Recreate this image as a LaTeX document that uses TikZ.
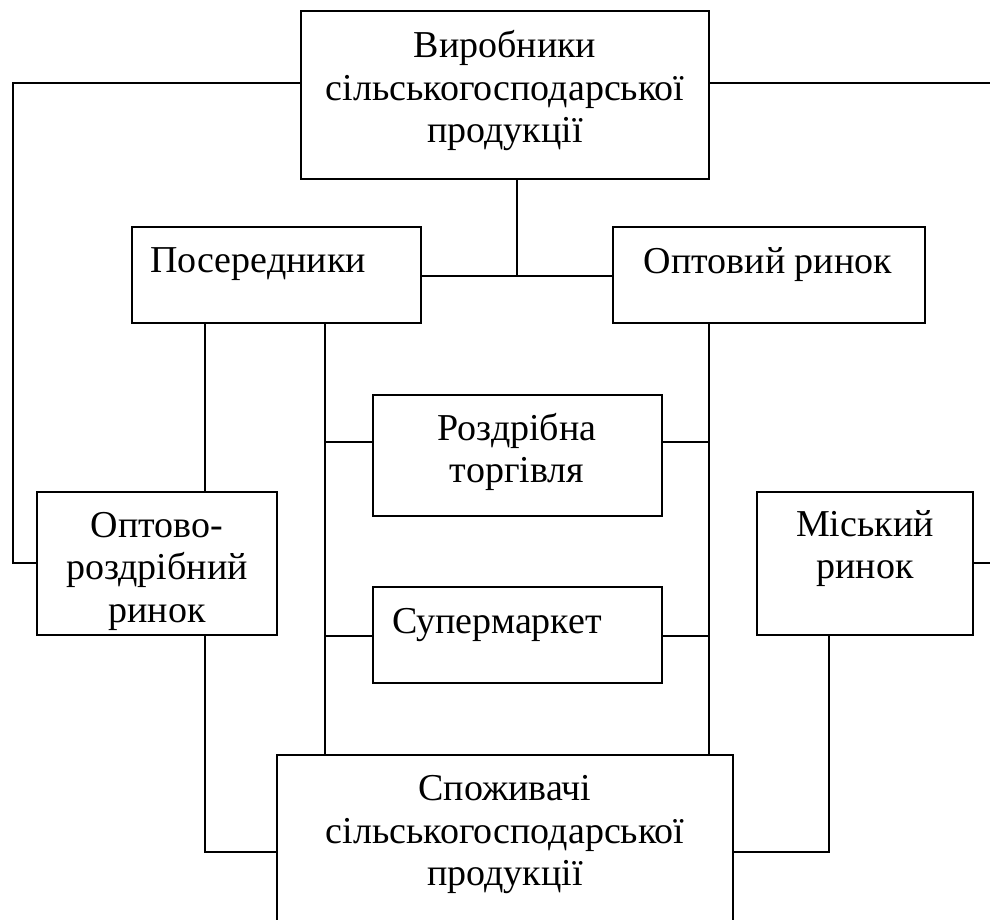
\documentclass[tikz,border=0pt]{standalone}
\usepackage{fontspec}
\setmainfont{Liberation Serif}
\begin{document}
\begin{tikzpicture}[x=1pt,y=-1pt,
  box/.style={draw,line width=1.9pt,inner sep=0pt,outer sep=0pt},
  txt/.style={anchor=base,inner sep=0pt,font=\fontsize{38}{42.5}\selectfont},
  ln/.style={line width=1.9pt}]
\useasboundingbox (0,0) rectangle (990,920);
% boxes
\node[box,minimum width=408pt,minimum height=168pt] (top) at (505,95) {};
\node[box,minimum width=289pt,minimum height=96pt] (pos) at (276.5,275) {};
\node[box,minimum width=312pt,minimum height=96pt] (opt) at (769,275) {};
\node[box,minimum width=289pt,minimum height=121pt] (roz) at (517.5,455.5) {};
\node[box,minimum width=289pt,minimum height=96pt] (sup) at (517.5,635) {};
\node[box,minimum width=240pt,minimum height=143pt] (ort) at (157,563.5) {};
\node[box,minimum width=216pt,minimum height=143pt] (mis) at (865,563.5) {};
\node[box,minimum width=456pt,minimum height=205pt] (spo) at (505,857.5) {};
% texts
\node[txt] (top1) at (505,58) {Виробники};
\node[txt] (top2) at (505,100.5) {сільськогосподарської};
\node[txt] (top3) at (505,143) {продукції};
\node[txt] (pos1) at (258,272) {Посередники};
\node[txt] (opt1) at (768,273) {Оптовий ринок};
\node[txt] (roz1) at (517,440) {Роздрібна};
\node[txt] (roz2) at (517,482) {торгівля};
\node[txt] (sup1) at (497,633) {Супермаркет};
\node[txt] (ort1) at (157,537) {Оптово-};
\node[txt] (ort2) at (157,579.5) {роздрібний};
\node[txt] (ort3) at (157,622) {ринок};
\node[txt] (mis1) at (865,536) {Міський};
\node[txt] (mis2) at (865,578.5) {ринок};
\node[txt] (spo1) at (505,800.5) {Споживачі};
\node[txt] (spo2) at (505,843) {сільськогосподарської};
\node[txt] (spo3) at (505,885.5) {продукції};
% helper coordinates
\coordinate (LL) at (13,83);
\coordinate (LL2) at (13,563);
\coordinate (RR) at (993,83);
\coordinate (RR2) at (993,563);
\coordinate (J) at (517,276);
\coordinate (X205) at (205,0);
\coordinate (X325) at (325,0);
\coordinate (X709) at (709,0);
\coordinate (X829) at (829,0);
\coordinate (Y442) at (0,442);
\coordinate (Y636) at (0,636);
\coordinate (Y852) at (0,852);
% connectors
\draw[ln] (top.west |- LL) -- (LL) -- (LL2) -- (ort.west |- LL2);
\draw[ln] (top.east |- RR) -- (RR) -- (RR2) -- (mis.east |- RR2);
\draw[ln] (top.south -| J) -- (J);
\draw[ln] (pos.east |- J) -- (opt.west |- J);
\draw[ln] (pos.south -| X205) -- (ort.north -| X205);
\draw[ln] (pos.south -| X325) -- (spo.north -| X325);
\draw[ln] (opt.south -| X709) -- (spo.north -| X709);
\draw[ln] (X325 |- Y442) -- (roz.west |- Y442);
\draw[ln] (roz.east |- Y442) -- (X709 |- Y442);
\draw[ln] (X325 |- Y636) -- (sup.west |- Y636);
\draw[ln] (sup.east |- Y636) -- (X709 |- Y636);
\draw[ln] (ort.south -| X205) -- (X205 |- Y852) -- (spo.west |- Y852);
\draw[ln] (mis.south -| X829) -- (X829 |- Y852) -- (spo.east |- Y852);
\end{tikzpicture}
\end{document}
